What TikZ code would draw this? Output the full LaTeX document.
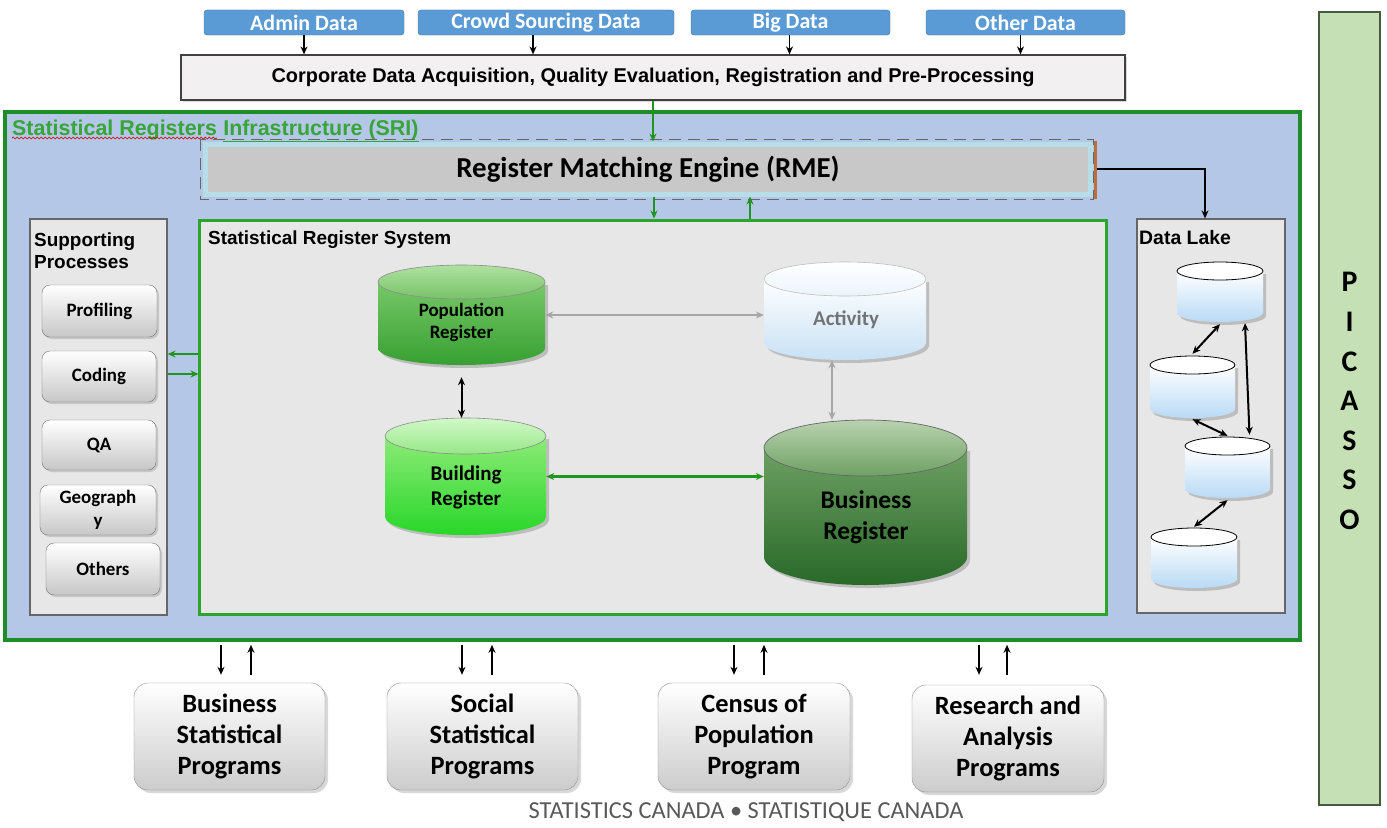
\documentclass[tikz,border=0pt]{standalone}
\usepackage{fontspec}
\setmainfont{Carlito}
\newfontfamily\arialf{Liberation Sans}
\usetikzlibrary{shadows,arrows.meta,decorations.pathmorphing}
\definecolor{tagblue}{RGB}{91,155,213}
\definecolor{tagborder}{RGB}{65,113,156}
\definecolor{srifill}{RGB}{180,199,231}
\definecolor{srigreen}{RGB}{30,140,40}
\definecolor{srsgreen}{RGB}{45,165,45}
\definecolor{panel}{RGB}{231,231,231}
\definecolor{picfill}{RGB}{197,224,180}
\definecolor{lidcyan}{RGB}{183,222,232}
\definecolor{rmegray}{RGB}{200,200,200}
\definecolor{labelgreen}{RGB}{55,165,55}
\definecolor{arrgreen}{RGB}{30,150,30}
\definecolor{corpfill}{RGB}{242,240,241}
\newcommand\cyl[8]{%
  \path[fill=black,opacity=0.18] (#2+3,-#3-#6-3) -- (#2+3,-#5+#6-3) arc[start angle=180,end angle=360,x radius={(#4-#2)/2},y radius=#6] -- (#4+3,-#3-#6-3) -- cycle;
  \path[#7] (#2,-#3-#6) -- (#2,-#5+#6) arc[start angle=180,end angle=360,x radius={(#4-#2)/2},y radius=#6] -- (#4,-#3-#6) -- cycle;
  \path[#8] ({(#2+#4)/2},{-#3-#6}) ellipse[x radius={(#4-#2)/2},y radius=#6];
  \node[inner sep=0pt,minimum width={(#4-#2)*1bp},minimum height={(#5-#3)*1bp}] (#1) at ({(#2+#4)/2},{-(#3+#5)/2}) {};
}
\begin{document}
\begin{tikzpicture}[x=1bp,y=1bp,
  >={Stealth[length=8bp,width=7bp]},
  tag/.style={fill=tagblue,draw=tagborder,rounded corners=3bp,text=white,font=\bfseries\fontsize{22}{24}\selectfont,inner sep=0pt},
  procbox/.style={rounded corners=8bp,draw=black!55,top color=white,bottom color=black!22,drop shadow={opacity=0.3,shadow xshift=2bp,shadow yshift=-2bp},font=\bfseries\fontsize{19}{23}\selectfont,align=center,inner sep=0pt},
  progbox/.style={rounded corners=14bp,draw=black!45,top color=white,bottom color=black!20,drop shadow={opacity=0.3,shadow xshift=3bp,shadow yshift=-3bp},font=\bfseries\fontsize{26.5}{31}\selectfont,align=center,inner sep=0pt,minimum height=107bp},
  panelbox/.style={fill=panel,draw=black!60,line width=1.2bp,inner sep=0pt},
  blk/.style={line width=1.6bp,black},
  grn/.style={line width=1.5bp,arrgreen},
  gry/.style={line width=2.4bp,black!35},
  cyltext/.style={font=\bfseries,align=center}
]
\useasboundingbox (0,0) rectangle (1387,-827);
\fill[white] (0,0) rectangle (1387,-827);

% data sources
\node[tag,minimum width=200bp,minimum height=25bp] (admin) at (304,-22.5) {Admin Data};
\node[tag,minimum width=256bp,minimum height=25bp] (crowd) at (546,-22.5) {Crowd Sourcing Data};
\node[tag,minimum width=199bp,minimum height=25bp] (big) at (790.5,-22.5) {Big Data};
\node[tag,minimum width=199bp,minimum height=25bp] (other) at (1025.5,-22.5) {Other Data};

\node[fill=corpfill,draw=black!75,line width=1.2bp,minimum width=944bp,minimum height=45bp,inner sep=0pt,
  drop shadow={opacity=0.3,shadow xshift=2bp,shadow yshift=-2bp},
  font=\arialf\bfseries\fontsize{20}{23}\selectfont] (corp) at (653,-77.5)
  {Corporate Data Acquisition, Quality Evaluation, Registration and Pre-Processing};

\draw[blk,->] (admin.south) -- (admin.south |- corp.north);
\draw[blk,->] ([xshift=-13bp]crowd.south) -- ([xshift=-13bp]crowd.south |- corp.north);
\draw[blk,->] ([xshift=-1bp]big.south) -- ([xshift=-1bp]big.south |- corp.north);
\draw[blk,->] ([xshift=-5bp]other.south) -- ([xshift=-5bp]other.south |- corp.north);

% SRI
\node[fill=srifill,draw=srigreen,line width=4bp,minimum width=1295bp,minimum height=528bp,inner sep=0pt] (sri) at (652.5,-376) {};
\node[anchor=base west,text=labelgreen,font=\arialf\bfseries\fontsize{21.5}{24}\selectfont,inner sep=0pt] (srilabel) at (12,-135) {Statistical Registers};
\node[anchor=base west,text=labelgreen,font=\arialf\bfseries\fontsize{21.5}{24}\selectfont,inner sep=0pt] (srilabelb) at (srilabel.base east) {\ \underline{Infrastructure (SRI)}};
\draw[red!80!black,line width=0.7bp,decorate,decoration={snake,segment length=4bp,amplitude=1bp}] ([yshift=-3bp]srilabel.base west) -- ([yshift=-3bp]srilabel.base east);

% RME
\draw[dashed,black!60,line width=1bp,dash pattern=on 12bp off 7bp] (200,-139) rectangle (1093,-199);
\node[fill=rmegray,draw=lidcyan,line width=5bp,minimum width=884bp,minimum height=50bp,inner sep=0pt,
  font=\bfseries\fontsize{29}{32}\selectfont] (rme) at (648,-169) {Register Matching Engine (RME)};
\draw[line width=3bp,color={rgb,255:red,190;green,110;blue,60}] (1095.5,-141) -- (1095.5,-199);

\draw[grn,->] (corp.south) -- (corp.south |- rme.north);

% Statistical Register System
\node[fill=panel,draw=srsgreen,line width=3bp,minimum width=906bp,minimum height=394bp,inner sep=0pt] (srs) at (653,-417) {};
\node[anchor=west,font=\arialf\bfseries\fontsize{19}{22}\selectfont,inner sep=0pt] (srslabel) at (208,-240) {Statistical Register System};

\draw[grn,->] ([xshift=6bp]rme.south) -- ([xshift=6bp]rme.south |- srs.north);
\draw[grn,->] ([xshift=97bp]srs.north) -- ([xshift=97bp]srs.north |- rme.south);

% Supporting processes
\node[panelbox,minimum width=137bp,minimum height=396bp] (sp) at (98.5,-417) {};
\node[anchor=north west,align=left,font=\arialf\bfseries\fontsize{19}{22}\selectfont,inner sep=0pt] (splabel) at (34,-233) {Supporting\\Processes};
\node[procbox,minimum width=115bp,minimum height=52bp] (prof) at (99.5,-311) {Profiling};
\node[procbox,minimum width=114bp,minimum height=51bp] (cod) at (99,-376.5) {Coding};
\node[procbox,minimum width=114bp,minimum height=50bp] (qa) at (99,-445) {QA};
\node[procbox,minimum width=116bp,minimum height=50bp] (geo) at (98,-510) {Geograph\\y};
\node[procbox,minimum width=114bp,minimum height=52bp] (oth) at (103,-569) {Others};

\draw[grn,->] ([yshift=63bp]srs.west) -- ([yshift=63bp]sp.east);
\draw[grn,->] ([yshift=43bp]sp.east) -- ([yshift=43bp]srs.west);

% cylinders
\cyl{pop}{378}{265}{545}{365}{17}{top color={rgb,255:red,120;green,200;blue,105},bottom color={rgb,255:red,55;green,160;blue,50}}{top color={rgb,255:red,175;green,225;blue,160},bottom color={rgb,255:red,120;green,195;blue,105},draw=black!45,line width=0.6bp}
\node[cyltext,font=\bfseries\fontsize{19}{22}\selectfont] (poptext) at (461.5,-322) {Population\\Register};

\cyl{act}{764}{262}{926}{360}{17}{top color=white,bottom color={rgb,255:red,200;green,225;blue,245}}{top color=white,bottom color={rgb,255:red,235;green,244;blue,252},draw=black!25,line width=0.6bp}
\node[cyltext,text=black!55,font=\bfseries\fontsize{21}{24}\selectfont] (acttext) at (846,-320) {Activity};

\cyl{build}{385}{418}{546}{535}{18}{top color={rgb,255:red,140;green,235;blue,120},bottom color={rgb,255:red,40;green,215;blue,40}}{top color={rgb,255:red,210;green,248;blue,200},bottom color={rgb,255:red,150;green,232;blue,135},draw=black!45,line width=0.6bp}
\node[cyltext,font=\bfseries\fontsize{21}{25}\selectfont] (buildtext) at (466,-487) {Building\\Register};

\cyl{biz}{764}{420}{967}{585}{28}{top color={rgb,255:red,110;green,160;blue,100},bottom color={rgb,255:red,40;green,105;blue,40}}{top color={rgb,255:red,185;green,210;blue,175},bottom color={rgb,255:red,110;green,160;blue,100},draw=black!60,line width=0.7bp}
\node[cyltext,font=\bfseries\fontsize{25.5}{31}\selectfont] (biztext) at (866,-517) {Business\\Register};

\draw[gry,<->] (pop.east) -- (pop.east -| act.west);
\draw[blk,<->,line width=2bp] ([yshift=-12bp]pop.south) -- (pop.south |- build.north);
\draw[gry,<->] ([xshift=-13bp]act.south) -- ([xshift=-13bp]act.south |- biz.north);
\draw[grn,<->,line width=2.4bp] (build.east) -- (build.east -| biz.west);

% Data lake
\node[panelbox,minimum width=148bp,minimum height=394bp] (dl) at (1211,-416) {};
\node[anchor=west,font=\arialf\bfseries\fontsize{19.5}{22}\selectfont,inner sep=0pt] (dllabel) at (1139,-238) {Data Lake};
\draw[blk,->] (rme.east) ++(4bp,0) -| ([xshift=-6bp]dl.north);

\cyl{dla}{1177}{262}{1263}{322}{9}{top color=white,bottom color={rgb,255:red,185;green,218;blue,245}}{fill=white,draw=black,line width=0.8bp}
\cyl{dlb}{1150}{356}{1235}{418}{9}{top color=white,bottom color={rgb,255:red,185;green,218;blue,245}}{fill=white,draw=black,line width=0.8bp}
\cyl{dlc}{1185}{437}{1270}{498}{9}{top color=white,bottom color={rgb,255:red,185;green,218;blue,245}}{fill=white,draw=black,line width=0.8bp}
\cyl{dld}{1151}{528}{1237}{588}{9}{top color=white,bottom color={rgb,255:red,185;green,218;blue,245}}{fill=white,draw=black,line width=0.8bp}

\draw[blk,<->,line width=2bp] ([yshift=-2bp]dla.south) -- ([yshift=2bp]dlb.north);
\draw[blk,<->,line width=2bp] ([xshift=25bp,yshift=-1bp]dla.south) -- ([xshift=22bp,yshift=2bp]dlc.north);
\draw[blk,<->,line width=2bp] ([yshift=-1bp]dlb.south) -- ([yshift=1bp]dlc.north);
\draw[blk,<->,line width=2bp] ([yshift=-2bp]dlc.south) -- ([yshift=1bp]dld.north);

% PICASSO
\node[fill=picfill,draw={rgb,255:red,70;green,90;blue,60},line width=1.5bp,minimum width=61bp,minimum height=793bp,inner sep=0pt] (pic) at (1349.5,-408.5) {};
\node[font=\bfseries\fontsize{30}{39.7}\selectfont,align=center,inner sep=0pt] (pictext) at (1349.5,-401) {P\\I\\C\\A\\S\\S\\O};

% programs
\node[progbox,minimum width=191bp] (bsp) at (229.5,-736.5) {Business\\Statistical\\Programs};
\node[progbox,minimum width=191bp] (ssp) at (482.5,-736.5) {Social\\Statistical\\Programs};
\node[progbox,minimum width=192bp] (cpp) at (754,-736.5) {Census of\\Population\\Program};
\node[progbox,minimum width=192bp] (rap) at (1008,-738.5) {Research and\\Analysis\\Programs};

\draw[blk,->] ([xshift=-8.5bp,yshift=38bp]bsp.north) -- ([xshift=-8.5bp,yshift=8bp]bsp.north);
\draw[blk,->] ([xshift=21.5bp,yshift=8bp]bsp.north) -- ([xshift=21.5bp,yshift=38bp]bsp.north);
\draw[blk,->] ([xshift=-20.5bp,yshift=38bp]ssp.north) -- ([xshift=-20.5bp,yshift=8bp]ssp.north);
\draw[blk,->] ([xshift=9.5bp,yshift=8bp]ssp.north) -- ([xshift=9.5bp,yshift=38bp]ssp.north);
\draw[blk,->] ([xshift=-20bp,yshift=38bp]cpp.north) -- ([xshift=-20bp,yshift=8bp]cpp.north);
\draw[blk,->] ([xshift=10bp,yshift=8bp]cpp.north) -- ([xshift=10bp,yshift=38bp]cpp.north);
\draw[blk,->] ([xshift=-29bp,yshift=40bp]rap.north) -- ([xshift=-29bp,yshift=10bp]rap.north);
\draw[blk,->] ([xshift=-1bp,yshift=10bp]rap.north) -- ([xshift=-1bp,yshift=40bp]rap.north);

\node[text=black!65,font=\fontsize{24.5}{27}\selectfont,inner sep=0pt] (footer) at (746,-812) {STATISTICS CANADA \textbullet{} STATISTIQUE CANADA};
\end{tikzpicture}
\end{document}
